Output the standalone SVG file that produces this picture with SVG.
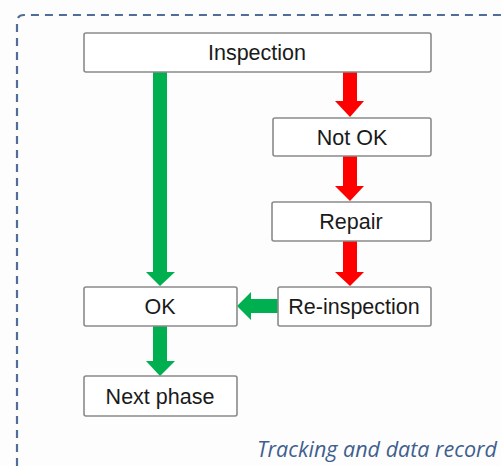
<svg xmlns="http://www.w3.org/2000/svg" width="501" height="466" viewBox="0 0 501 466">
<style>
.box{fill:#ffffff;stroke:#8a8a8a;stroke-width:1.6}
.lbl{font-family:"Liberation Sans",Arial,sans-serif;font-size:21.5px;fill:#1a1a1a;text-anchor:middle}
.g{fill:#00b050}
.r{fill:#ff0000}
</style>
<rect x="0" y="0" width="501" height="466" fill="#fdfdfd"/>
<path d="M17,466 V22 Q17,15 24,15 H510" fill="none" stroke="#4f6d96" stroke-width="2.2" stroke-dasharray="8,6"/>
<g id="connectors">
<polygon class="g" points="153,72 167,72 167,272 175,272 160,286 146,272 153,272"/>
<polygon class="r" points="343,72 357,72 357,101 364,101 350,117 335,101 343,101"/>
<polygon class="r" points="343,156 357,156 357,186 364,186 350,201 335,186 343,186"/>
<polygon class="r" points="343,241 357,241 357,272 364,272 350,286 335,272 343,272"/>
<polygon class="g" points="278,299 251,299 251,292 237,306 251,320 251,313 278,313"/>
<polygon class="g" points="153,326 167,326 167,361 175,361 160,376 146,361 153,361"/>
</g>
<g id="inspection"><rect class="box" x="84" y="33" width="347" height="39" rx="2"/><text class="lbl" x="257" y="60">Inspection</text></g>
<g id="notok"><rect class="box" x="273" y="118" width="158" height="38" rx="2"/><text class="lbl" x="352" y="145">Not OK</text></g>
<g id="repair"><rect class="box" x="272" y="202" width="159" height="39" rx="2"/><text class="lbl" x="351" y="229">Repair</text></g>
<g id="reinspection"><rect class="box" x="278" y="287" width="153" height="39" rx="2"/><text class="lbl" x="354" y="314">Re-inspection</text></g>
<g id="ok"><rect class="box" x="84" y="287" width="153" height="39" rx="2"/><text class="lbl" x="160" y="314">OK</text></g>
<g id="nextphase"><rect class="box" x="84" y="376" width="153" height="40" rx="2"/><text class="lbl" x="160" y="404">Next phase</text></g>
<text x="497" y="457" font-family="'Open Sans','Liberation Sans',sans-serif" font-style="italic" font-size="21.5" fill="#3f5f8f" text-anchor="end">Tracking and data record</text>
</svg>
